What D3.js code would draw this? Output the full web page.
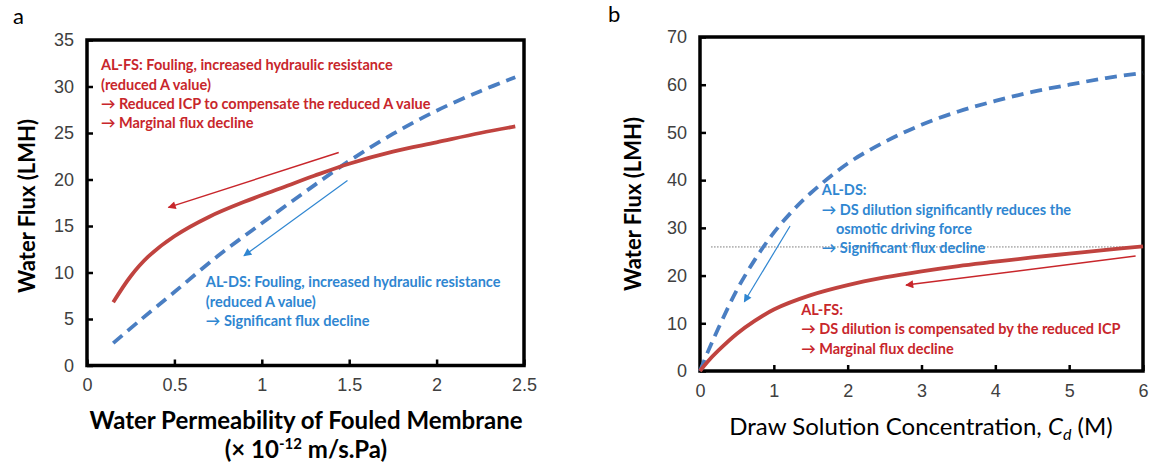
<!DOCTYPE html>
<html><head><meta charset="utf-8">
<script src="https://cdn.jsdelivr.net/npm/d3@7"></script>
<style>
body{margin:0;background:#fff;}
svg{display:block;font-family:Lato,"Open Sans",sans-serif;}
</style></head>
<body><svg id="c" width="1153" height="468"></svg>
<script>
// ---------- DATA ----------
// Panel a : water permeability of fouled membrane vs water flux
const aTicksX = [0, 0.5, 1, 1.5, 2, 2.5];
const aTickLabelsX = ["0", "0.5", "1", "1.5", "2", "2.5"];
const aTicksY = [0, 5, 10, 15, 20, 25, 30, 35];
const aFS_A = [0.15, 0.25, 0.35, 0.5, 0.7, 0.9, 1.1, 1.3, 1.5, 1.75, 2.0, 2.25, 2.45];
const aFS_J = [6.8, 9.6, 11.7, 13.9, 16.0, 17.6, 19.0, 20.4, 21.7, 23.0, 24.0, 25.0, 25.7];
const aDS_A = [0.15, 0.3, 0.5, 0.75, 1.0, 1.25, 1.5, 1.75, 2.0, 2.25, 2.45];
const aDS_J = [2.4, 4.8, 7.9, 11.8, 15.3, 18.7, 22.0, 24.9, 27.4, 29.5, 31.0];
// Panel b : draw solution concentration vs water flux
const bTicksX = [0, 1, 2, 3, 4, 5, 6];
const bTicksY = [0, 10, 20, 30, 40, 50, 60, 70];
const bDS_C = [0, 0.1, 0.25, 0.5, 0.75, 1.0, 1.25, 1.5, 2.0, 2.5, 3.0, 3.5, 4.0, 4.5, 5.0, 5.5, 6.0];
const bDS_J = [0, 3.8, 9.0, 17.0, 23.5, 29.0, 33.5, 37.3, 43.5, 48.0, 51.6, 54.4, 56.6, 58.5, 60.0, 61.4, 62.5];
const bFS_C = [0, 0.1, 0.25, 0.5, 0.75, 1.0, 1.5, 2.0, 2.5, 3.0, 3.5, 4.0, 4.5, 5.0, 5.5, 6.0];
const bFS_J = [0, 1.9, 4.3, 7.8, 10.6, 12.9, 15.9, 18.0, 19.6, 20.9, 22.0, 22.9, 23.8, 24.6, 25.4, 26.1];
const bRefLine = {x0: 0.15, x1: 6, y: 26};
// Annotation arrows (data coordinates: [x0,y0] tail -> [x1,y1] head)
const aArrowFS = [[1.44, 22.9], [0.466, 17.0]];
const aArrowDS = [[1.49, 19.9], [0.898, 11.8]];
const bArrowDS = [[1.22, 30.4], [0.6, 14.5]];
const bArrowFS = [[5.9, 24.1], [2.79, 18.0]];
// Annotation texts
const aTextFS = ["AL-FS: Fouling, increased hydraulic resistance", "(reduced A value)", "\u2192 Reduced ICP to compensate the reduced A value", "\u2192 Marginal flux decline"];
const aTextDS = ["AL-DS: Fouling, increased hydraulic resistance", "(reduced A value)", "\u2192 Significant flux decline"];
const bTextDS = ["AL-DS:", "\u2192 DS dilution significantly reduces the", "    osmotic driving force", "\u2192 Significant flux decline"];
const bTextFS = ["AL-FS:", "\u2192 DS dilution is compensated by the reduced ICP", "\u2192 Marginal flux decline"];

// ---------- STYLE ----------
const RED = "#C0433F", BLUE = "#4A7EC2", RED_T = "#C8262B", BLUE_T = "#2F86D1";
const svg = d3.select("#c");
const defs = svg.append("defs");
function marker(id, col){
  defs.append("marker").attr("id", id).attr("viewBox", "0 0 10 10").attr("refX", 9).attr("refY", 5)
    .attr("markerWidth", 11).attr("markerHeight", 8).attr("markerUnits", "userSpaceOnUse").attr("orient", "auto")
    .append("path").attr("d", "M0,0 L10,5 L0,10 Z").attr("fill", col);
}
marker("mr", RED_T); marker("mb", BLUE_T);

function panel(o){
  const g = svg.append("g");
  const x = d3.scaleLinear().domain(o.xd).range([o.x0, o.x1]);
  const y = d3.scaleLinear().domain(o.yd).range([o.y1, o.y0]);
  const ax = g.append("g").attr("transform", `translate(0,${o.y1})`)
    .call(d3.axisBottom(x).tickValues(o.tx).tickSizeInner(-6).tickSizeOuter(0).tickPadding(13)
      .tickFormat((d,i)=>o.txl ? o.txl[i] : d));
  const ay = g.append("g").attr("transform", `translate(${o.x0},0)`)
    .call(d3.axisLeft(y).tickValues(o.ty).tickSizeInner(-6).tickSizeOuter(0).tickPadding(13));
  [ax, ay].forEach(a=>{
    a.select(".domain").remove();
    a.selectAll(".tick line").attr("stroke", "#000").attr("stroke-width", 2.5);
    a.selectAll(".tick text").attr("fill", "#404040").style("font-size", "18px");
  });
  g.append("rect").attr("x", o.x0).attr("y", o.y0).attr("width", o.x1 - o.x0).attr("height", o.y1 - o.y0)
    .attr("fill", "none").attr("stroke", "#000").attr("stroke-width", 3.5);
  return {g, x, y};
}

function curve(p, xs, ys, col, dash){
  const line = d3.line().x(d=>p.x(d[0])).y(d=>p.y(d[1])).curve(d3.curveCatmullRom.alpha(0.5));
  p.g.append("path").datum(xs.map((v,i)=>[v, ys[i]])).attr("d", line)
    .attr("fill", "none").attr("stroke", col).attr("stroke-width", 3.8)
    .attr("stroke-dasharray", dash ? "12,7" : null);
}
function arrow(p, a, col, m, w){
  p.g.append("line").attr("x1", p.x(a[0][0])).attr("y1", p.y(a[0][1]))
    .attr("x2", p.x(a[1][0])).attr("y2", p.y(a[1][1]))
    .attr("stroke", col).attr("stroke-width", w).attr("marker-end", `url(#${m})`);
}
function note(p, lines, xv, yv, col){
  const t = p.g.append("text").attr("x", p.x(xv)).attr("y", p.y(yv)).attr("fill", col)
    .style("font-size", "14.5px").style("font-weight", "bold").attr("xml:space", "preserve");
  lines.forEach((l,i)=> t.append("tspan").attr("x", p.x(xv)).attr("dy", i ? 19.3 : 0).text(l));
}

// ---------- PANEL A ----------
const pa = panel({xd:[0,2.5], yd:[0,35], x0:87, x1:524, y0:40, y1:365.5, tx:aTicksX, txl:aTickLabelsX, ty:aTicksY});
curve(pa, aDS_A, aDS_J, BLUE, true);
curve(pa, aFS_A, aFS_J, RED, false);
arrow(pa, aArrowFS, RED_T, "mr", 1.5);
arrow(pa, aArrowDS, BLUE_T, "mb", 1.2);
note(pa, aTextFS, 0.08, 31.75, RED_T);
note(pa, aTextDS, 0.68, 8.4, BLUE_T);
svg.append("text").attr("x", 26).attr("y", 206).attr("transform", "rotate(-90,26,206)")
  .attr("text-anchor", "middle").attr("dominant-baseline", "central")
  .style("font-size", "22px").style("font-weight", "bold").text("Water Flux (LMH)");
svg.append("text").attr("x", 306).attr("y", 429).attr("text-anchor", "middle")
  .style("font-size", "24px").style("font-weight", "bold").text("Water Permeability of Fouled Membrane");
const sub = svg.append("text").attr("x", 306).attr("y", 458).attr("text-anchor", "middle")
  .style("font-size", "24px").style("font-weight", "bold");
sub.append("tspan").text("(\u00d7 10");
sub.append("tspan").attr("dy", -9).style("font-size", "15px").text("-12");
sub.append("tspan").attr("dy", 9).text(" m/s.Pa)");
svg.append("text").attr("x", 13).attr("y", 24).style("font-size", "22px").text("a");

// ---------- PANEL B ----------
const pb = panel({xd:[0,6], yd:[0,70], x0:700, x1:1143, y0:37, y1:371, tx:bTicksX, ty:bTicksY});
pb.g.append("line").attr("x1", pb.x(bRefLine.x0)).attr("x2", pb.x(bRefLine.x1))
  .attr("y1", pb.y(bRefLine.y)).attr("y2", pb.y(bRefLine.y))
  .attr("stroke", "#555").attr("stroke-width", 0.8).attr("stroke-dasharray", "1.5,1.5");
curve(pb, bDS_C, bDS_J, BLUE, true);
curve(pb, bFS_C, bFS_J, RED, false);
arrow(pb, bArrowDS, BLUE_T, "mb", 1.2);
arrow(pb, bArrowFS, RED_T, "mr", 1.5);
note(pb, bTextDS, 1.65, 36.8, BLUE_T);
note(pb, bTextFS, 1.37, 11.7, RED_T);
svg.append("text").attr("x", 632).attr("y", 204).attr("transform", "rotate(-90,632,204)")
  .attr("text-anchor", "middle").attr("dominant-baseline", "central")
  .style("font-size", "22px").style("font-weight", "bold").text("Water Flux (LMH)");
const bt = svg.append("text").attr("x", 921).attr("y", 435).attr("text-anchor", "middle")
  .style("font-size", "24px");
bt.append("tspan").text("Draw Solution Concentration, ");
bt.append("tspan").style("font-style", "italic").text("C");
bt.append("tspan").style("font-style", "italic").style("font-size", "16px").attr("dy", 5).text("d");
bt.append("tspan").attr("dy", -5).text(" (M)");
svg.append("text").attr("x", 608).attr("y", 22).style("font-size", "22px").text("b");
</script></body></html>
